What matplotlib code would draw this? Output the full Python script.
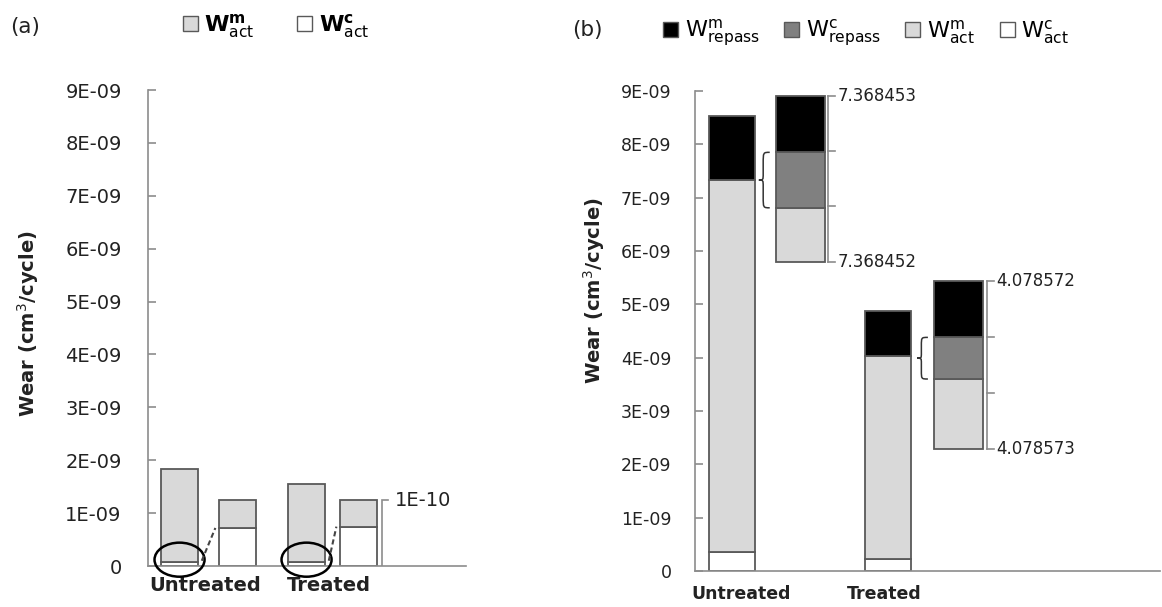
import numpy as np
import matplotlib.pyplot as plt
from matplotlib.patches import Patch, Ellipse, PathPatch
from matplotlib.path import Path

plt.rcParams['font.family'] = 'DejaVu Sans'
plt.rcParams['mathtext.fontset'] = 'dejavusans'

# data
categories = ['Untreated', 'Treated']

# panel (a): W_act split, plus the zoomed bars (0 .. 1E-10)
wc_act_a = [0.07e-9, 0.07e-9]
wm_act_a = [1.77e-9, 1.48e-9]
zoom_full_a = 1.24e-9
zoom_wc_a = [0.72e-9, 0.745e-9]
zoom_label_a = '1E-10'

# panel (b): stacked wear components
wc_act_b = [0.36e-9, 0.23e-9]
wm_act_b = [6.98e-9, 3.81e-9]
w_repass_b = [1.20e-9, 0.84e-9]

# panel (b): zoomed insets next to each bar
inset_bottom_b = [5.80e-9, 2.29e-9]
inset_wm_act_b = [1.01e-9, 1.31e-9]
inset_wc_repass_b = [1.04e-9, 0.78e-9]
inset_wm_repass_b = [1.06e-9, 1.06e-9]
inset_low_b = ['7.368452', '4.078573']
inset_high_b = ['7.368453', '4.078572']

yticks = np.arange(0, 10) * 1e-9
ytick_labels = ['0'] + ['%dE-09' % i for i in range(1, 10)]

C_BLACK = '#000000'
C_DARK = '#808080'
C_LIGHT = '#d9d9d9'
C_WHITE = '#ffffff'
EDGE = '#595959'
AXC = '#8c8c8c'
TXT = '#222222'

fig = plt.figure(figsize=(11.62, 6.07), dpi=100)
ax_a = fig.add_axes([0.1274, 0.0675, 0.2737, 0.7842])
ax_b = fig.add_axes([0.5981, 0.0593, 0.4002, 0.7908])


def style_axis(ax, fs, pad):
    for s in ['top', 'right']:
        ax.spines[s].set_visible(False)
    for s in ['left', 'bottom']:
        ax.spines[s].set_color(AXC)
        ax.spines[s].set_linewidth(1.2)
    ax.set_ylim(0, 9e-9)
    ax.set_yticks(yticks)
    ax.set_yticklabels(ytick_labels)
    ax.tick_params(axis='y', direction='in', length=6, color=AXC, width=1.2,
                   labelsize=fs, labelcolor=TXT, pad=pad)
    ax.tick_params(axis='x', length=0, labelcolor=TXT)


def brace(ax, x_right, y0, y1, w):
    # left curly brace, tip pointing left
    h = y1 - y0
    ym = (y0 + y1) / 2
    xr = x_right
    xm = xr - w * 0.6
    xl = xr - w
    verts = [(xr, y1),
             (xm, y1), (xm, y1), (xm, y1 - 0.2 * h),
             (xm, ym + 0.12 * h),
             (xm, ym), (xm, ym), (xl, ym),
             (xm, ym), (xm, ym), (xm, ym - 0.12 * h),
             (xm, y0 + 0.2 * h),
             (xm, y0), (xm, y0), (xr, y0)]
    codes = [Path.MOVETO] + [Path.CURVE4] * 3 + [Path.LINETO] + [Path.CURVE4] * 6 + \
            [Path.LINETO] + [Path.CURVE4] * 3
    ax.add_patch(PathPatch(Path(verts, codes), fill=False, lw=1.1,
                           edgecolor='#333333', clip_on=False))


# ---------------- panel (a) ----------------
x_a = np.arange(len(categories))
bw_a = 0.29
zoom_off_a = np.array([0.457, 0.41])

ax_a.bar(x_a, wc_act_a, bw_a, color=C_WHITE, edgecolor=EDGE, lw=1.3)
ax_a.bar(x_a, wm_act_a, bw_a, bottom=wc_act_a, color=C_LIGHT, edgecolor=EDGE, lw=1.3)

xz = x_a + zoom_off_a
ax_a.bar(xz, zoom_wc_a, bw_a, color=C_WHITE, edgecolor=EDGE, lw=1.3)
ax_a.bar(xz, zoom_full_a - np.array(zoom_wc_a), bw_a, bottom=zoom_wc_a,
         color=C_LIGHT, edgecolor=EDGE, lw=1.3)

for i in range(len(categories)):
    ax_a.add_patch(Ellipse((x_a[i], 0.12e-9), 0.394, 0.644e-9, fill=False,
                           edgecolor='black', lw=1.8, clip_on=False, zorder=5))
    ax_a.plot([x_a[i] + 0.175, xz[i] - bw_a / 2 - 0.03], [0.1e-9, zoom_wc_a[i]],
              ls=(0, (2.5, 1.5)), color='#444444', lw=1.5, zorder=5)

# scale bracket for the zoomed bars
xbr = xz[-1] + bw_a / 2 + 0.04
ax_a.plot([xbr, xbr, xbr + 0.05], [0, zoom_full_a, zoom_full_a], color=AXC, lw=1.2,
          solid_joinstyle='miter')
ax_a.text(xbr + 0.1, zoom_full_a, zoom_label_a, fontsize=14, color=TXT, va='center')

ax_a.set_xlim(-0.248, 2.256)
style_axis(ax_a, 14, 19)
ax_a.set_xticks(x_a + zoom_off_a / 2 - 0.03)
ax_a.set_xticklabels(categories, fontsize=14, fontweight='bold')
ax_a.tick_params(axis='x', pad=7)
ax_a.set_ylabel('Wear (cm$^3$/cycle)', fontsize=14, fontweight='bold', color=TXT)
ax_a.yaxis.set_label_coords(-0.335, 0.51)

fig.text(10 / 1162, 1 - 27 / 607, '(a)', fontsize=15.5, color=TXT, va='center')
h_a = [Patch(facecolor=C_LIGHT, edgecolor=EDGE, lw=1),
       Patch(facecolor=C_WHITE, edgecolor=EDGE, lw=1)]
l_a = [r'$\mathbf{W}^{\mathbf{m}}_{\mathrm{act}}$', r'$\mathbf{W}^{\mathbf{c}}_{\mathrm{act}}$']
ax_a.legend(h_a, l_a, loc='center', bbox_to_anchor=(276 / 1162, 1 - 26 / 607),
            bbox_transform=fig.transFigure, ncol=2, frameon=False, fontsize=16,
            handlelength=0.68, handleheight=0.64, handletextpad=0.3, columnspacing=1.9)

# ---------------- panel (b) ----------------
x_b = np.arange(len(categories))
bw_b = 0.296
ins_off_b = np.array([0.44, 0.457])
iw_b = 0.315

bot = np.zeros(2)
for vals, col in [(wc_act_b, C_WHITE), (wm_act_b, C_LIGHT), (w_repass_b, C_BLACK)]:
    ax_b.bar(x_b, vals, bw_b, bottom=bot, color=col, edgecolor=EDGE, lw=1.3)
    bot = bot + np.array(vals)

xi = x_b + ins_off_b
bot = np.array(inset_bottom_b)
for vals, col in [(inset_wm_act_b, C_LIGHT), (inset_wc_repass_b, C_DARK),
                  (inset_wm_repass_b, C_BLACK)]:
    ax_b.bar(xi, vals, iw_b, bottom=bot, color=col, edgecolor=EDGE, lw=1.3)
    bot = bot + np.array(vals)
ins_top = bot

for i in range(len(categories)):
    lo = inset_bottom_b[i]
    hi = ins_top[i]
    xbr = xi[i] + iw_b / 2 + 0.022
    ax_b.plot([xbr, xbr], [lo, hi], color=AXC, lw=1.2)
    for yt in np.linspace(lo, hi, 4):
        ax_b.plot([xbr, xbr + 0.045], [yt, yt], color=AXC, lw=1.2)
    ax_b.text(xbr + 0.06, hi, inset_high_b[i], fontsize=12, color=TXT, va='center')
    ax_b.text(xbr + 0.06, lo, inset_low_b[i], fontsize=12, color=TXT, va='center')
    y0 = inset_bottom_b[i] + inset_wm_act_b[i]
    brace(ax_b, xi[i] - iw_b / 2 - 0.04, y0, y0 + inset_wc_repass_b[i], 0.07)

ax_b.set_xlim(-0.238, 2.752)
style_axis(ax_b, 12.5, 17)
ax_b.set_xticks(x_b + np.array([0.06, -0.02]))
ax_b.set_xticklabels(categories, fontsize=12.5, fontweight='bold')
ax_b.tick_params(axis='x', pad=10)
ax_b.set_ylabel('Wear (cm$^3$/cycle)', fontsize=14, fontweight='bold', color=TXT)
ax_b.yaxis.set_label_coords(-0.19, 0.585)

fig.text(572 / 1162, 1 - 30 / 607, '(b)', fontsize=15.5, color=TXT, va='center')
h_b = [Patch(facecolor=C_BLACK, edgecolor=EDGE, lw=1),
       Patch(facecolor=C_DARK, edgecolor=EDGE, lw=1),
       Patch(facecolor=C_LIGHT, edgecolor=EDGE, lw=1),
       Patch(facecolor=C_WHITE, edgecolor=EDGE, lw=1)]
l_b = [r'$\mathrm{W}^{\mathrm{m}}_{\mathrm{repass}}$', r'$\mathrm{W}^{\mathrm{c}}_{\mathrm{repass}}$',
       r'$\mathrm{W}^{\mathrm{m}}_{\mathrm{act}}$', r'$\mathrm{W}^{\mathrm{c}}_{\mathrm{act}}$']
ax_b.legend(h_b, l_b, loc='center', bbox_to_anchor=(866 / 1162, 1 - 33 / 607),
            bbox_transform=fig.transFigure, ncol=4, frameon=False, fontsize=16,
            handlelength=0.68, handleheight=0.64, handletextpad=0.3, columnspacing=1.1)

fig.savefig('out.png', dpi=100)
